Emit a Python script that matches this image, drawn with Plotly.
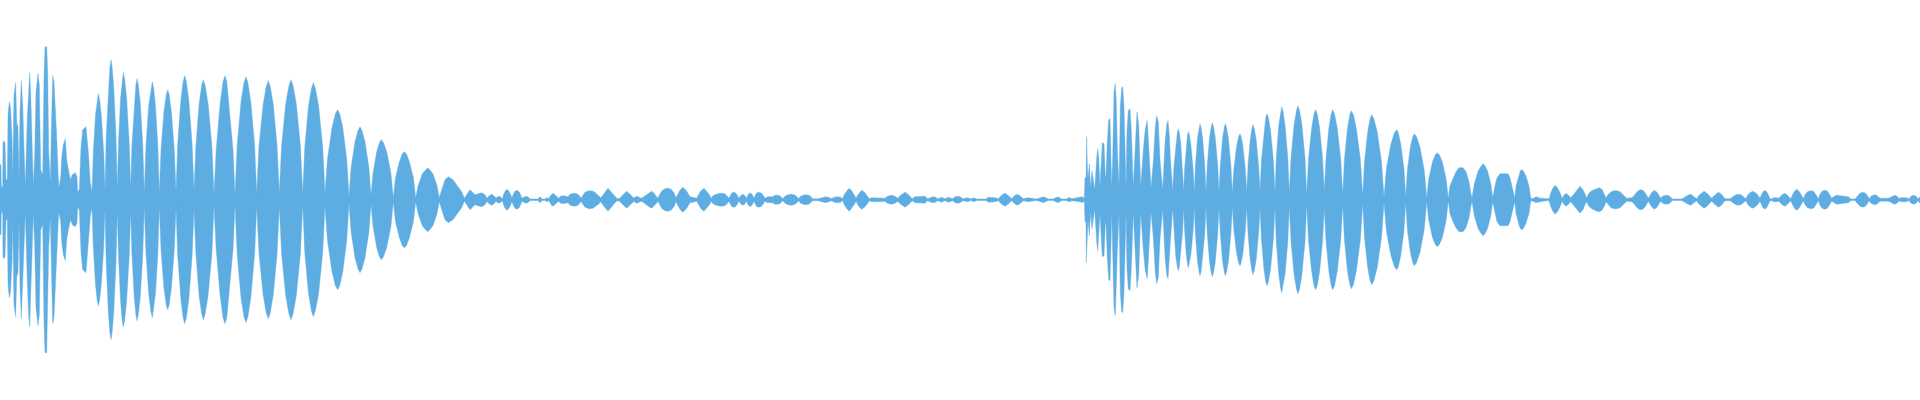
import plotly.graph_objects as go

# Waveform envelope: (time position, amplitude)
first_attack = [
    (0,35),(1,35),(1.3,13),(2.7,13),(3,57),(4,59),(5,57),(5.3,37),(6,20),(7.3,20),
    (8,85),(9.3,98),(10.5,92),(12,62),(12.7,23),
    (14,105),(15.7,117),(16.7,77),(18,73),(19,22),
    (20,88),(21.3,119),(22.7,95),(24,52),(25.3,13),
    (27.3,82),(28.7,117),(29.7,127),(30.7,107),(32,53),(33.3,14),
    (34.7,45),(36,108),(38,126),(39.3,115),(40.7,30),(42.7,25),
    (44,123),(45,153),(46.7,153),(47.7,127),(48.7,48),(50.3,17),
    (51.3,68),(52.7,124),(54,118),(55,90),(56.7,63),(58.7,12),
    (60.7,22),(61.7,42),(63.3,55),(65.3,61),(66.7,40),(69,27),(70.7,20),
    (72.3,25),(75.3,27),(77,23),(77.7,8),(79.3,10),
]
first_body = [
    (81,53),(82.7,70),(86,73),(88.3,48),(90.3,17),(92,8),
    (93.3,48),(95.5,85),(97.2,101),(98.3,106),(99.5,101),(101.3,85),(103.7,48),(105,10),
    (106.2,63),(108.3,112),(109.9,133),(111,140),(112.1,133),(113.8,112),(116,63),(117.3,11),
    (118.5,57),(120.6,102),(122.2,121),(123.3,127),(124.6,121),(126.6,102),(129.2,57),(130.7,11),
    (131.9,54),(134.2,97),(135.9,115),(137,121),(138.3,115),(140.3,97),(142.8,54),(144.3,7),
    (145.9,53),(148.7,94),(150.9,112),(152.3,118),(153.6,112),(155.5,94),(157.9,53),(159.3,7),
    (161,50),(163.9,88),(166.2,105),(167.7,110),(169.2,105),(171.4,88),(174.3,50),(176,8),
    (177.7,56),(180.8,99),(183.1,118),(184.7,124),(186.4,118),(188.9,99),(192.1,56),(194,10),
    (195.9,54),(199.1,96),(201.6,114),(203.3,120),(205.2,114),(208.1,96),(211.9,54),(214,6),
    (216.2,50),(220,95),(223,118),(225,124),(226.8,118),(229.5,90),(233,50),(235,5),
    (237.2,55),(241,98),(244,117),(246,123),(247.9,117),(250.8,98),(254.6,55),(256.7,7),
    (259,54),(263.1,95),(266.2,113),(268.3,119),(270.3,113),(273.3,95),(277.1,54),(279.3,7),
    (281.6,54),(285.7,96),(288.9,114),(291,120),(293.1,114),(296.3,96),(300.4,54),(302.7,6),
    (304.8,53),(308.5,94),(311.4,111),(313.3,117),(315.4,111),(318.6,94),(322.7,53),(325,7),
    (327.5,41),(332,72),(335.4,86),(337.7,90),(339.7,86),(342.8,72),(346.7,41),(349,4),
    (351.2,33),(355,58),(358,69),(360,73),(362,69),(365,58),(368.8,33),(371,5),
    (373.1,27),(376.7,48),(379.4,57),(381.3,60),(383.5,57),(386.7,48),(390.9,27),(393.3,2),
    (395.5,22),(399.4,38),(402.3,46),(404.3,48),(406.4,46),(409.4,38),(413.4,22),(415.7,2),
    (418.1,14),(422.3,26),(425.5,30),(427.7,32),(429.8,30),(432.9,26),(437,14),(439.3,2),
    (441.7,10),(445,20),(448.3,23),(453,20),(458,13),(461.7,8),(464.3,1.5),
    (470,10),(472,8),(475,5),(478,6),(482,7),(485,5),(487,1.5),
]
first_tail = [
    (489,4),(492,5.5),(494.5,3.5),(496,1.5),(497.5,3),(499,3.5),(501,2.5),(502.5,1),
    (503.5,5),(505,8.5),(507,10.5),(509,8.5),(510.8,5),(512,1.5),
    (513,5),(515,8.5),(517,9.5),(519.5,7.5),(521,4),(522,1.5),
    (523.5,2.5),(526,3.5),(528.5,2.5),(530,0.7),
    (538.5,0.7),(539,2.5),(541,2.5),(541.5,0.7),(546,0.7),(546.5,2),(547.5,2),(548.7,0.7),
    (550,3.5),(551.5,5.5),(553,6.5),(555.5,4.5),(557,3),(558.7,1.5),
    (560.5,3.5),(563,4),(566,3.5),(568,3),(570,5.5),(574,6.5),(577,6),(579.5,4),(581,1.5),
    (582.5,4),(585,7.5),(589,9),(593,8.5),(596,6.5),(599,4),(600.7,2),
    (602.5,4),(605,8),(608,11.5),(611,8),(614,4),(616.7,1.5),(619,1),
    (621,3),(623.5,5.5),(626.7,8.5),(630,5.5),(632.5,3),(634,1.5),
    (635.5,3),(637,3.5),(639,2.5),(641,1.5),(643,2.5),
    (646,4.5),(649,7),(651.7,8.5),(654,6.5),(656.5,3.5),(658,1.5),
    (659.5,5),(662,9),(665,11),(668,11.5),(671,10.5),(674,7),(676,2),
    (677.5,5),(680,9.5),(682.7,12.5),(686,9.5),(688,6.5),(690,3),(693,2.5),(696.7,1.5),
    (698.5,5),(701,9),(704,11.5),(707,8.5),(709.5,5),(711,1.5),
    (713,4),(716,5.5),(720.7,6.5),(725,6),(727,4),(729,1.5),
    (730.5,4.5),(732,7),(734,7.5),(736,6.5),(737.5,4),(739,1.5),
    (740.5,4),(743,5.5),(745,4),(746.7,1.5),
    (748,5),(750,7),(752,5.5),(754,1.5),
    (755.5,5),(757,7),(759,7.5),(761.5,6.5),(763.5,4),(765,1.5),
    (767.7,3),(773,3),(774.5,4.5),(778,4.5),(780.5,3.5),(782.7,1),
    (785,3.5),(788,5),(791,5.5),(794,5),(796.5,3.5),(798.7,1),
    (800,3),(803,4.5),(805.7,5),(809,4.5),(811,3),(812.7,1),
    (818,1),(822,2),(826,3),(829,2.3),(831.7,1),
    (834,2.5),(838,3),(840.5,2.5),(842.7,1),
    (844,4.5),(846.5,8.5),(849.3,11.5),(852,8.5),(854.5,4.5),(856,1.5),
    (857.5,4.5),(859.5,7.5),(861.7,9.5),(865,7),(867.5,4),(869.3,1),
    (871.7,2),(880,2),(885,1.5),(887.5,3.5),(891.7,4.5),(895,3.5),(897.7,1.5),
    (900,4),(902.5,6),(905,7.5),(908,5.5),(910.5,3),(912.3,1),
    (915,3),(925,3.5),(927.7,1),(930.5,2.5),(933,3),(935.5,2.5),(937.7,1),
    (941.7,2.5),(945,1),(948.3,2.5),(952.7,1),(955,3),(958.3,3.5),(961,2.5),(962.7,1),(967.7,2),(971,0.8),(974,2),(976.7,0.8),
    (986,0.8),(988.3,2.5),(995,2),(998.3,1),(1001.5,4.5),(1005,6.5),(1008.5,4),(1011.7,1),(1014.5,4),(1017.3,5.5),(1020.5,3.5),(1023.3,1),
    (1028,2),(1036.7,0.8),(1040.5,2),(1043.3,3),(1046,2),(1048.3,0.8),(1053,0.8),(1058,3),(1061.7,0.8),(1066.5,0.8),(1068.3,2),
]
second_attack = [
    (1070,2),(1071.7,1),(1080,2),(1082.7,3),(1084.3,1),(1085,22),(1086,22),(1086.3,63),(1086.7,63),(1087.3,36),(1088,20),
    (1089.3,36),(1090.7,12),(1092,29),(1093,22),(1094.7,10),(1096.7,42),(1097.7,51),(1098.7,42),(1100,14),
    (1102.3,57),(1104,56),(1105.3,24),(1106,24),(1107.3,58),(1108.7,80),(1110,81),(1110.7,57),(1111.7,12),
    (1112.7,43),(1114,108),(1115.3,116),(1116.3,98),(1117.3,53),(1119,12),
    (1120.3,93),(1121.7,112),(1122.7,113),(1124,93),(1125,53),(1126,13),
    (1127,70),(1128.3,89),(1130,91),(1131.3,70),(1133.3,13),(1135.3,57),(1137,88),(1138.7,75),(1140.7,13),
    (1143.3,50),(1145.3,71),(1147.3,79),(1148.7,55),(1151,12),(1153.3,38),(1155.3,73),(1156.7,84),(1158.3,78),(1160,40),(1162.7,10),
    (1165,57),(1166.7,75),(1168,79),(1169.3,65),(1170.5,40),(1172.7,9),
]
second_body = [
    (1173.8,32),(1175.8,57),(1177.3,67),(1178.3,71),(1179.3,67),(1180.7,57),(1182.6,32),(1183.7,9),
    (1184.6,31),(1186.2,54),(1187.5,65),(1188.3,68),(1189.4,65),(1191,54),(1193.1,31),(1194.3,8),
    (1195.4,34),(1197.4,61),(1199,72),(1200,76),(1201.1,72),(1202.7,61),(1204.8,34),(1206,7),
    (1207.3,35),(1209.5,62),(1211.2,73),(1212.3,77),(1213.5,73),(1215.3,62),(1217.7,35),(1219,8),
    (1220.3,34),(1222.5,61),(1224.2,72),(1225.3,76),(1226.6,72),(1228.5,61),(1230.9,34),(1232.3,7),
    (1233.8,30),(1236.5,53),(1238.6,63),(1240,66),(1241.2,63),(1243,53),(1245.4,30),(1246.7,8),
    (1248,34),(1250.2,60),(1251.9,71),(1253,75),(1254.3,71),(1256.2,60),(1258.6,34),(1260,9),
    (1261.4,39),(1263.9,69),(1265.7,82),(1267,86),(1268.4,82),(1270.6,69),(1273.4,39),(1275,8),
    (1276.3,42),(1278.7,74),(1280.5,88),(1281.7,93),(1283.1,88),(1285.1,74),(1287.8,42),(1289.3,7),
    (1291,42),(1294.1,75),(1296.4,89),(1298,94),(1299.6,89),(1301.9,75),(1305,42),(1306.7,5),
    (1308.5,41),(1311.7,72),(1314,86),(1315.7,90),(1317.2,86),(1319.6,72),(1322.6,41),(1324.3,9),
    (1326,41),(1328.9,72),(1331.2,86),(1332.7,90),(1334.5,86),(1337.2,72),(1340.7,41),(1342.7,5),
    (1344.4,40),(1347.4,71),(1349.8,85),(1351.3,89),(1353.4,85),(1356.4,71),(1360.4,40),(1362.7,4),
    (1364.5,38),(1367.7,68),(1370.1,81),(1371.7,85),(1373.9,81),(1377.2,68),(1381.5,38),(1384,3),
    (1386.5,32),(1391,56),(1394.4,67),(1396.7,70),(1398.3,67),(1400.7,56),(1403.9,32),(1405.7,3),
    (1407.4,30),(1410.4,53),(1412.8,63),(1414.3,66),(1416.5,63),(1419.9,53),(1424.2,30),(1426.7,2),
    (1428.8,21),(1432.5,38),(1435.4,45),(1437.3,47),(1439.3,45),(1442.3,38),(1446.1,21),(1448.3,1.5),
    (1450,14),(1453,22),(1456,28),(1459,32),(1463,32),(1466,28),(1469,18),(1471,6),(1472,2),
    (1474.3,16),(1478.2,29),(1481.3,34),(1483.3,36),(1485,34),(1487.5,29),(1490.8,16),(1492.7,2),
    (1495,14),(1497,22),(1500,26),(1508,26),(1510,22),(1512,14),(1514.7,2),
    (1516.1,14),(1518.6,24),(1520.4,29),(1521.7,30),(1523.3,29),(1525.8,24),(1528.9,14),(1530.7,2),
]
second_tail = [
    (1532,1),(1534.5,2),(1536,3),(1538,2.5),(1540,1.5),(1543,1.5),(1547.3,0.8),(1549,1),
    (1550.5,6),(1552.5,11),(1555.3,14.5),(1558,11),(1560.5,6),(1562.3,1),
    (1563.5,4),(1566,6.5),(1568.5,4.5),(1570.7,2),
    (1573,4.5),(1576.5,9.5),(1580,13.5),(1583,10),(1585,5),(1586.7,2),
    (1588.5,6),(1591,8.5),(1594,10),(1597,11.5),(1599.3,12),(1602,10.5),(1604.5,6),(1606,2),
    (1608,5),(1611,8),(1614,9),(1617,9),(1620,8),(1623,5),(1626.7,1.5),
    (1631.7,2),(1634,4),(1637,8),(1640,10),(1643,9.5),(1645.5,6.5),(1648.3,1.5),
    (1650,4.5),(1652,7.5),(1654.3,9.5),(1657,7.5),(1659,4.5),(1660.7,1.5),
    (1662.5,3.5),(1666,4.5),(1669,4),(1671,2),(1672.7,0.8),(1681.7,0.8),
    (1685,3),(1688,4.5),(1690.7,5.5),(1693,4),(1695,2.5),(1696.7,1),
    (1698.5,4),(1701,6.5),(1704,8.5),(1707,6.5),(1709.5,4),(1711.7,1.5),
    (1713.5,3.5),(1716,6),(1718.3,7.5),(1721,6),(1723,3.5),(1725,1),(1730,1),
    (1733,3),(1736,5),(1738.3,5.5),(1741,5),(1743.5,3),(1746,1),
    (1747.5,4.5),(1750,7),(1752.7,8.5),(1755.5,7),(1758,4.5),(1760,1.5),
    (1761.5,5),(1763,8),(1765,9.5),(1767,7.5),(1768.5,4.5),(1770,1),
    (1772.5,1),(1773,2),(1777,2),(1779,1.5),
    (1780.5,3.5),(1782,5),(1784.3,6.5),(1787,5),(1789,3),(1790.7,1),
    (1792.5,5),(1794.5,8.5),(1796.7,10.5),(1799,8.5),(1801.5,4.5),(1803.3,1),
    (1805,5),(1807.5,8),(1810.7,9),(1813.5,8.5),(1816,5),(1818.3,1),
    (1820,5.5),(1822,8.5),(1825,9.5),(1827.5,8.5),(1830,4.5),(1831.7,1.5),
    (1833.5,3),(1836.7,4.5),(1848.3,3),(1851,0.8),(1855,0.8),
    (1857.5,4),(1860,6.5),(1862.7,7.5),(1865.5,6.5),(1867.5,4),(1869.3,1),
    (1871,3.5),(1872.5,4.5),(1874.3,5),(1876.5,4.5),(1878.5,3),(1880,1.5),(1888.3,1.5),
    (1891,2.5),(1893,4),(1895,4.5),(1897,3.5),(1899.3,1),
    (1900,2),(1906.7,2),(1909,0.8),(1910.5,3),(1913.3,4.5),(1916,3.5),(1918.3,0.8),(1919.3,3),(1920,3),
]

envelope = first_attack + first_body + first_tail + second_attack + second_body + second_tail
times = [p[0] for p in envelope]
upper = [p[1] for p in envelope]

fig = go.Figure(go.Scatter(
    x=times + times[::-1],
    y=upper + [-v for v in upper[::-1]],
    mode="lines",
    fill="toself",
    fillcolor="#5DADE2",
    line=dict(color="#5DADE2", width=0.4),
    hoverinfo="skip",
    showlegend=False,
))
fig.update_layout(
    width=1920, height=400,
    margin=dict(l=0, r=0, t=0, b=0),
    paper_bgcolor="white", plot_bgcolor="white",
    xaxis=dict(range=[0, 1920], visible=False, fixedrange=True),
    yaxis=dict(range=[-200.3, 199.7], visible=False, fixedrange=True),
)
fig.write_html("out.html", config=dict(displayModeBar=False),
               post_script="document.body.style.margin='0';")
